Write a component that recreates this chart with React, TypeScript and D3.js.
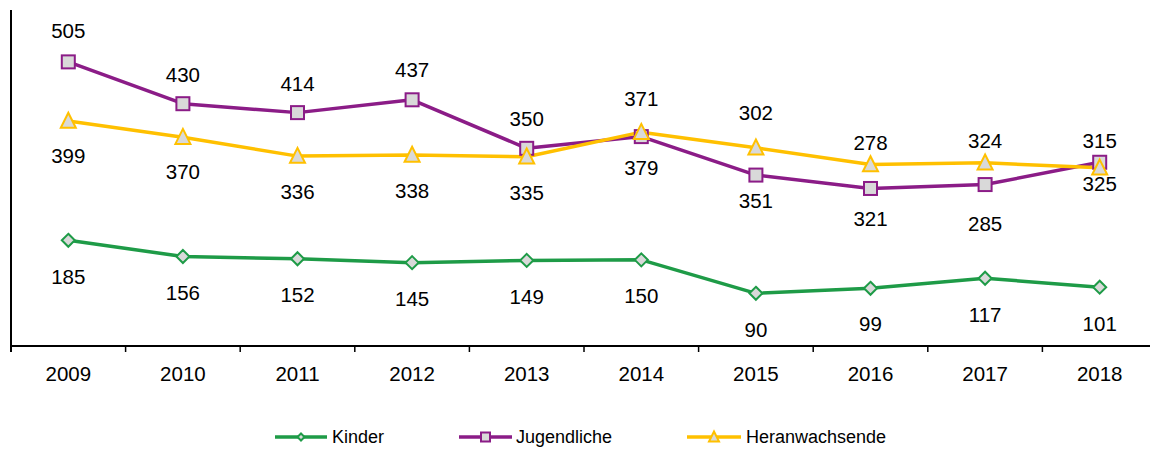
import React from "react";
import * as d3 from "d3";

const years = ["2009", "2010", "2011", "2012", "2013", "2014", "2015", "2016", "2017", "2018"];
const kinder = [185, 156, 152, 145, 149, 150, 90, 99, 117, 101];
const jugendliche = [505, 430, 414, 437, 350, 371, 302, 278, 285, 325];
const heranwachsende = [399, 370, 336, 338, 335, 379, 351, 321, 324, 315];
const yDomain = [0, 600];

// label vertical offsets (px) relative to each point, as placed in the reference
const kinderLabelDy = [36, 36, 36, 36, 36, 36, 36, 35, 36, 36];
const jugLabelDy = [-31, -29.5, -29.5, -30, -29.5, -37.5, -62, -45.5, 39.5, 21];
const herLabelDy = [35, 34.5, 35.5, 36, 36, 35, 53, 54.5, -22, -27];

const W = 1150;
const H = 450;
const plotLeft = 11;
const plotRight = 1157;
const plotTop = 10;
const plotBottom = 346;

const GREEN = "#1E9B47";
const PURPLE = "#8B1C87";
const GOLD = "#FFC000";
const FILL = "#D9D9D9";
const FONT = "'Liberation Sans', Arial, sans-serif";

type Kind = "diamond" | "square" | "triangle";

function Marker({ kind, x, y, color, s }: { kind: Kind; x: number; y: number; color: string; s: number }) {
  if (kind === "square") {
    return <rect x={x - s / 2} y={y - s / 2} width={s} height={s} fill={FILL} stroke={color} strokeWidth={2} />;
  }
  if (kind === "diamond") {
    const r = s / 2;
    return (
      <path d={`M${x},${y - r}L${x + r},${y}L${x},${y + r}L${x - r},${y}Z`} fill={FILL} stroke={color} strokeWidth={2} />
    );
  }
  const h = s;
  const w = s;
  return (
    <path
      d={`M${x},${y - h * 0.55}L${x + w / 2},${y + h * 0.45}L${x - w / 2},${y + h * 0.45}Z`}
      fill={FILL}
      stroke={color}
      strokeWidth={2}
      strokeLinejoin="miter"
    />
  );
}

export default function App() {
  const x = d3.scaleBand<string>().domain(years).range([plotLeft, plotRight]).padding(0);
  const y = d3.scaleLinear().domain(yDomain).range([343.5, 8.9]);
  const cx = (i: number) => (x(years[i]) as number) + x.bandwidth() / 2;

  const line = d3
    .line<number>()
    .x((_, i) => cx(i))
    .y((d) => y(d));

  const series = [
    { name: "Kinder", values: kinder, color: GREEN, kind: "diamond" as Kind, size: 13, dy: kinderLabelDy },
    { name: "Jugendliche", values: jugendliche, color: PURPLE, kind: "square" as Kind, size: 13, dy: jugLabelDy },
    { name: "Heranwachsende", values: heranwachsende, color: GOLD, kind: "triangle" as Kind, size: 15, dy: herLabelDy },
  ];

  const tickXs = years.map((yr) => x(yr) as number).concat([plotRight]);

  const legendItems = [
    { s: series[0], x1: 275, x2: 327, tx: 332, ms: 7 },
    { s: series[1], x1: 459, x2: 512, tx: 516, ms: 9 },
    { s: series[2], x1: 687, x2: 741, tx: 746, ms: 10 },
  ];
  const legendY = 437;

  return (
    <svg
      width={W}
      height={H}
      style={{ position: "absolute", left: 0, top: 0, background: "#fff" }}
      fontFamily={FONT}
    >
      <rect x={0} y={0} width={W} height={H} fill="#fff" />
      {/* axes */}
      <line x1={plotLeft} y1={plotTop} x2={plotLeft} y2={plotBottom + 6} stroke="#000" strokeWidth={2} />
      <line x1={plotLeft} y1={plotBottom} x2={plotRight} y2={plotBottom} stroke="#000" strokeWidth={2} />
      {tickXs.map((tx, i) => (
        <line key={i} x1={tx} y1={plotBottom} x2={tx} y2={plotBottom + 6} stroke="#000" strokeWidth={1.5} />
      ))}
      {years.map((yr, i) => (
        <text key={yr} x={cx(i)} y={381} textAnchor="middle" fontSize={20.5} fill="#000">
          {yr}
        </text>
      ))}

      {/* lines */}
      {series.map((s) => (
        <path key={s.name} d={line(s.values) || ""} fill="none" stroke={s.color} strokeWidth={3.5} strokeLinejoin="round" />
      ))}
      {/* markers */}
      {series.map((s) =>
        s.values.map((v, i) => (
          <Marker key={s.name + i} kind={s.kind} x={cx(i)} y={y(v)} color={s.color} s={s.size} />
        ))
      )}
      {/* labels */}
      {series.map((s) =>
        s.values.map((v, i) => (
          <text
            key={"l" + s.name + i}
            x={cx(i)}
            y={y(v) + s.dy[i]}
            dy="0.36em"
            textAnchor="middle"
            fontSize={20.5}
            fill="#000"
          >
            {v}
          </text>
        ))
      )}

      {/* legend */}
      {legendItems.map((it) => (
        <g key={it.s.name}>
          <line x1={it.x1} y1={legendY} x2={it.x2} y2={legendY} stroke={it.s.color} strokeWidth={3.5} />
          <Marker kind={it.s.kind} x={(it.x1 + it.x2) / 2} y={legendY} color={it.s.color} s={it.ms} />
          <text x={it.tx} y={legendY} dy="0.36em" fontSize={18} fill="#000">
            {it.s.name}
          </text>
        </g>
      ))}
    </svg>
  );
}
